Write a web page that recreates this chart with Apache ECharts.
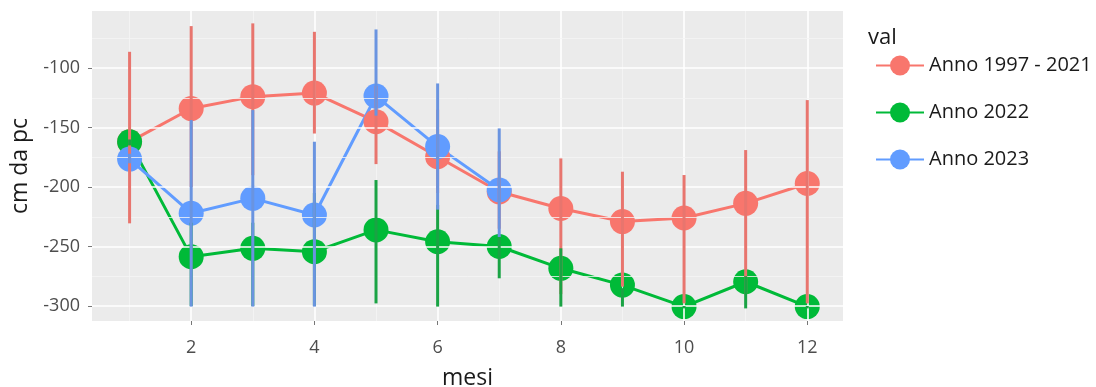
<!DOCTYPE html>
<html>
<head>
<meta charset="utf-8">
<script src="https://cdn.jsdelivr.net/npm/echarts@6/dist/echarts.min.js"></script>
<style>
html,body{margin:0;padding:0;background:#fff;}
#c{width:1096px;height:387px;}
</style>
</head>
<body>
<div id="c"></div>
<script>
// ---- data ----
const months = [1, 2, 3, 4, 5, 6, 7, 8, 9, 10, 11, 12];
const seriesNames = ['Anno 1997 - 2021', 'Anno 2022', 'Anno 2023'];

const mean1997 = [-162, -134, -124, -121, -145, -174.5, -204, -218, -229, -226, -213.7, -197];
const low1997  = [-230.5, -200, -190, -155, -180.7, -205, -235, -290, -283.7, -297.8, -290, -297.8];
const high1997 = [-86.3, -64.7, -62.4, -69.5, -115, -135, -170, -175.9, -187.1, -189.9, -168.9, -126.9];

const mean2022 = [-162, -258.5, -251.5, -254.3, -236, -246, -250, -268.3, -282.4, -300.5, -279.6, -300.5];
const low2022  = [-165, -300, -300, -300, -297.8, -300.5, -276.7, -300.5, -300.5, -302, -302, -302];
const high2022 = [-160, -230, -230, -205, -194.1, -215, -240, -251.5, -285, -300, -275, -300];

const months2023 = [1, 2, 3, 4, 5, 6, 7];
const mean2023 = [-176.5, -222, -209.5, -223.5, -123.5, -166, -202.5];
const low2023  = [-180, -300.5, -300.5, -300.5, -140, -219, -242];
const high2023 = [-172, -143.7, -135.3, -161.9, -67.5, -112.9, -150.7];

const xTicks = [2, 4, 6, 8, 10, 12];
const xMinor = [1, 3, 5, 7, 9, 11];
const yTicks = [-300, -250, -200, -150, -100];
const yMinor = [-275, -225, -175, -125, -75];

const colors = ['#F8766D', '#00BA38', '#619CFF'];
const errColors = ['#E8756E', '#1AA344', '#6A94E0'];

// ---- build ----
function pairs(xs, ys) { return xs.map((x, i) => [x, ys[i]]); }
function triples(xs, lo, hi) { return xs.map((x, i) => [x, lo[i], hi[i]]); }

function errSeries(name, data, color) {
  return {
    type: 'custom',
    name: name + ' err',
    z: 5,
    silent: true,
    data: data,
    encode: { x: 0, y: [1, 2] },
    renderItem: function (params, api) {
      const p1 = api.coord([api.value(0), api.value(1)]);
      const p2 = api.coord([api.value(0), api.value(2)]);
      return {
        type: 'line',
        shape: { x1: p1[0], y1: p1[1], x2: p2[0], y2: p2[1] },
        style: { stroke: color, lineWidth: 3 }
      };
    }
  };
}

function lineSeries(name, data, color) {
  return {
    type: 'line',
    name: name,
    data: data,
    symbol: 'circle',
    symbolSize: 25,
    showAllSymbol: true,
    z: 3,
    itemStyle: { color: color, opacity: 1 },
    lineStyle: { color: color, width: 3 },
    emphasis: { disabled: true }
  };
}

const gridLines = [];
xTicks.forEach(v => gridLines.push({ xAxis: v, lineStyle: { color: '#ffffff', width: 1.6, type: 'solid' } }));
xMinor.forEach(v => gridLines.push({ xAxis: v, lineStyle: { color: '#f5f5f5', width: 0.8, type: 'solid' } }));
yTicks.forEach(v => gridLines.push({ yAxis: v, lineStyle: { color: '#ffffff', width: 1.6, type: 'solid' } }));
yMinor.forEach(v => gridLines.push({ yAxis: v, lineStyle: { color: '#f5f5f5', width: 0.8, type: 'solid' } }));

const font = '"Open Sans", "Noto Sans", sans-serif';

const option = {
  animation: false,
  backgroundColor: '#ffffff',
  textStyle: { fontFamily: font },
  title: {
    text: 'val',
    left: 863,
    top: 22,
    textStyle: { fontFamily: font, fontSize: 22, fontWeight: 'normal', color: '#1a1a1a' }
  },
  legend: {
    orient: 'vertical',
    left: 870,
    top: 48,
    itemWidth: 48,
    itemHeight: 25,
    itemGap: 22,
    data: seriesNames,
    textStyle: { fontFamily: font, fontSize: 20, color: '#1a1a1a', lineHeight: 25 }
  },
  grid: {
    left: 92, top: 11, right: 253, bottom: 66,
    containLabel: false,
    outerBoundsMode: 'none',
    show: true, backgroundColor: '#EBEBEB', borderWidth: 0
  },
  xAxis: {
    type: 'value',
    min: 0.39, max: 12.58,
    name: 'mesi',
    nameLocation: 'middle',
    nameGap: 46,
    nameTextStyle: { fontFamily: font, fontSize: 23, color: '#1a1a1a' },
    axisLine: { show: false },
    axisTick: { show: true, customValues: xTicks, length: 4, lineStyle: { color: '#777' } },
    axisLabel: { customValues: xTicks, fontSize: 18, color: '#4d4d4d', margin: 18, fontFamily: font },
    splitLine: { show: false }
  },
  yAxis: {
    type: 'value',
    min: -312.6, max: -52,
    name: 'cm da pc',
    nameLocation: 'middle',
    nameGap: 59,
    nameRotate: 90,
    nameTextStyle: { fontFamily: font, fontSize: 23, color: '#1a1a1a' },
    axisLine: { show: false },
    axisTick: { show: true, customValues: yTicks, length: 4, lineStyle: { color: '#777' } },
    axisLabel: { customValues: yTicks, fontSize: 18, color: '#4d4d4d', margin: 12, fontFamily: font },
    splitLine: { show: false }
  },
  series: [
    {
      type: 'line',
      name: '_grid',
      data: [],
      z: 1,
      silent: true,
      symbol: 'none',
      markLine: { silent: true, symbol: 'none', label: { show: false }, animation: false, data: gridLines }
    },
    lineSeries(seriesNames[0], pairs(months, mean1997), colors[0]),
    lineSeries(seriesNames[1], pairs(months, mean2022), colors[1]),
    lineSeries(seriesNames[2], pairs(months2023, mean2023), colors[2]),
    errSeries(seriesNames[0], triples(months, low1997, high1997), errColors[0]),
    errSeries(seriesNames[1], triples(months, low2022, high2022), errColors[1]),
    errSeries(seriesNames[2], triples(months2023, low2023, high2023), errColors[2])
  ]
};

const chart = echarts.init(document.getElementById('c'), null, { renderer: 'canvas' });
chart.setOption(option);
</script>
</body>
</html>
